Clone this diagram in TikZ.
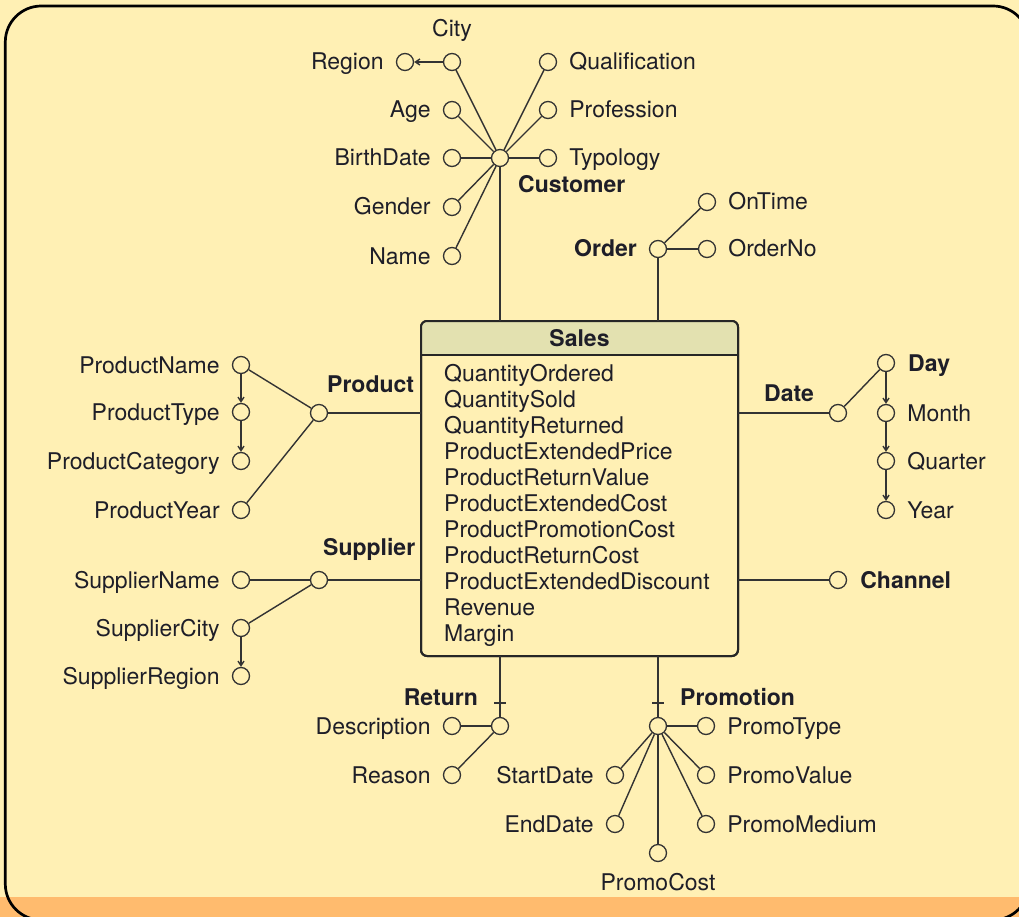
\documentclass[tikz,border=0pt]{standalone}
\usepackage{fontspec}
\setmainfont{TeX Gyre Heros}
\usetikzlibrary{arrows.meta}

\definecolor{bg}{HTML}{FFF0B4}
\definecolor{band}{HTML}{FFBB6E}
\definecolor{hdr}{HTML}{E3E1B0}
\definecolor{ink}{HTML}{1E1E28}
\definecolor{linec}{HTML}{333333}

\newcommand{\labfont}{\fontsize{23}{26}\selectfont}
% attribute circle with its name on the left / right
\newcommand{\AttrL}[4]{%
  \node[att] (#1) at (#2,#3) {};
  \node[lblL] (#1-t) at ([xshift=-12pt,yshift=-8pt]#1.west) {#4};}
\newcommand{\AttrR}[4]{%
  \node[att] (#1) at (#2,#3) {};
  \node[lblR] (#1-t) at ([xshift=12pt,yshift=-8pt]#1.east) {#4};}

\begin{document}
\begin{tikzpicture}[x=1pt,y=-1pt,
  att/.style={circle,draw=linec,fill=bg,line width=1.3pt,minimum size=17pt,inner sep=0pt},
  lblL/.style={font=\labfont,text=ink,anchor=base east,inner sep=0pt},
  lblR/.style={font=\labfont,text=ink,anchor=base west,inner sep=0pt},
  plain/.style={font=\labfont,text=ink,inner sep=0pt},
  ent/.style={font=\labfont\bfseries,text=ink,inner sep=0pt},
  link/.style={draw=linec,line width=1.4pt},
  hier/.style={link,-{Straight Barb[length=4.5pt,width=6pt]}},
  factbox/.style={rectangle,fill=bg,draw=black!85,line width=2pt,rounded corners=6pt,
    minimum width=317pt,minimum height=335pt,inner sep=0pt,outer sep=0pt},
]
% page background, bottom band and frame
\useasboundingbox (0,0) rectangle (1019,917);
\fill[bg] (0,0) rectangle (1019,917);
\fill[band] (0,897) rectangle (1019,917);
\draw[black,line width=2.7pt,rounded corners=36pt] (5.3,6) rectangle (1029,920);

% fact table
\node[factbox] (sales) at (579.5,488.5) {};
\begin{scope}
  \clip[rounded corners=6pt] (sales.south west) rectangle (sales.north east);
  \fill[hdr] (sales.north west) rectangle ([yshift=-34pt]sales.north east);
\end{scope}
\draw[black!85,line width=2pt] ([yshift=-34pt]sales.north west) -- ([yshift=-34pt]sales.north east);
\draw[black!85,line width=2pt,rounded corners=6pt] (sales.south west) rectangle (sales.north east);
\node[ent,anchor=base] (sales-t) at (579.5,346) {Sales};
\foreach \t [count=\i from 0] in {QuantityOrdered,QuantitySold,QuantityReturned,
  ProductExtendedPrice,ProductReturnValue,ProductExtendedCost,ProductPromotionCost,
  ProductReturnCost,ProductExtendedDiscount,Revenue,Margin}
  \node[lblR] (m\i) at (444,{381+26*\i}) {\t};

% Customer
\node[att] (cust) at (500,158) {};
\node[att] (city) at (452,62) {};
\node[plain,anchor=base] (city-t) at (452,37) {City};
\AttrL{region}{405}{62}{Region}
\AttrL{age}{452}{110}{Age}
\AttrL{bdate}{452}{158}{BirthDate}
\AttrL{gender}{452}{207}{Gender}
\AttrL{name}{452}{256}{Name}
\AttrR{qual}{548}{62}{Qualification}
\AttrR{prof}{548}{110}{Profession}
\AttrR{typo}{548}{158}{Typology}
\node[ent,anchor=base west] (cust-t) at (518,193) {Customer};
\foreach \a in {city,age,bdate,gender,name,qual,prof,typo}
  \draw[link] (cust) -- (\a);
\draw[hier] (city) -- (region);
\draw[link] (cust) -- (cust |- sales.north);

% Order
\node[att] (order) at (658,249) {};
\AttrR{ontime}{707}{202}{OnTime}
\AttrR{ordno}{707}{249}{OrderNo}
\node[ent,anchor=base east] (order-t) at (637,257) {Order};
\draw[link] (order) -- (ontime);
\draw[link] (order) -- (ordno);
\draw[link] (order) -- (order |- sales.north);

% Product
\node[att] (prod) at (319,413) {};
\AttrL{pname}{241}{365}{ProductName}
\AttrL{ptype}{241}{412}{ProductType}
\AttrL{pcat}{241}{461}{ProductCategory}
\AttrL{pyear}{241}{510}{ProductYear}
\node[ent,anchor=base west] (prod-t) at (327,392) {Product};
\draw[link] (prod) -- (pname);
\draw[link] (prod) -- (pyear);
\draw[hier] (pname) -- (ptype);
\draw[hier] (ptype) -- (pcat);
\draw[link] (prod) -- (prod -| sales.west);

% Date
\node[att] (date) at (838,413) {};
\node[att] (day) at (886,363) {};
\node[ent,anchor=base west] (day-t) at (908,371) {Day};
\AttrR{month}{886}{413}{Month}
\AttrR{quarter}{886}{461}{Quarter}
\AttrR{year}{886}{510}{Year}
\node[ent,anchor=base west] (date-t) at (764,401) {Date};
\draw[link] (date) -- (day);
\draw[hier] (day) -- (month);
\draw[hier] (month) -- (quarter);
\draw[hier] (quarter) -- (year);
\draw[link] (date) -- (date -| sales.east);

% Channel
\node[att] (chan) at (838,580) {};
\node[ent,anchor=base west] (chan-t) at ([xshift=13pt,yshift=-8pt]chan.east) {Channel};
\draw[link] (chan) -- (chan -| sales.east);

% Supplier
\node[att] (supp) at (319,580) {};
\AttrL{sname}{241}{580}{SupplierName}
\AttrL{scity}{241}{628}{SupplierCity}
\AttrL{sreg}{241}{676}{SupplierRegion}
\node[ent,anchor=base west] (supp-t) at (323,555) {Supplier};
\draw[link] (supp) -- (sname);
\draw[link] (supp) -- (scity);
\draw[hier] (scity) -- (sreg);
\draw[link] (supp) -- (supp -| sales.west);

% Return
\node[att] (ret) at (500,726) {};
\AttrL{desc}{452}{726}{Description}
\AttrL{reason}{452}{775}{Reason}
\node[ent,anchor=base east] (ret-t) at (478,705) {Return};
\draw[link] (ret) -- (desc);
\draw[link] (ret) -- (reason);
\draw[link] (ret) -- (ret |- sales.south);
\coordinate (rettick) at (500,703);
\draw[link] ([xshift=-6pt]rettick) -- ([xshift=6pt]rettick);

% Promotion
\node[att] (promo) at (658,726) {};
\AttrR{ptype2}{706}{726}{PromoType}
\AttrR{pval}{706}{775}{PromoValue}
\AttrR{pmed}{706}{824}{PromoMedium}
\AttrL{sdate}{615}{775}{StartDate}
\AttrL{edate}{615}{824}{EndDate}
\node[att] (pcost) at (658,853) {};
\node[plain,anchor=base] (pcost-t) at (658,890) {PromoCost};
\node[ent,anchor=base west] (promo-t) at (680,705) {Promotion};
\foreach \a in {ptype2,pval,pmed,sdate,edate,pcost}
  \draw[link] (promo) -- (\a);
\draw[link] (promo) -- (promo |- sales.south);
\coordinate (promotick) at (658,703);
\draw[link] ([xshift=-6pt]promotick) -- ([xshift=6pt]promotick);
\end{tikzpicture}
\end{document}
